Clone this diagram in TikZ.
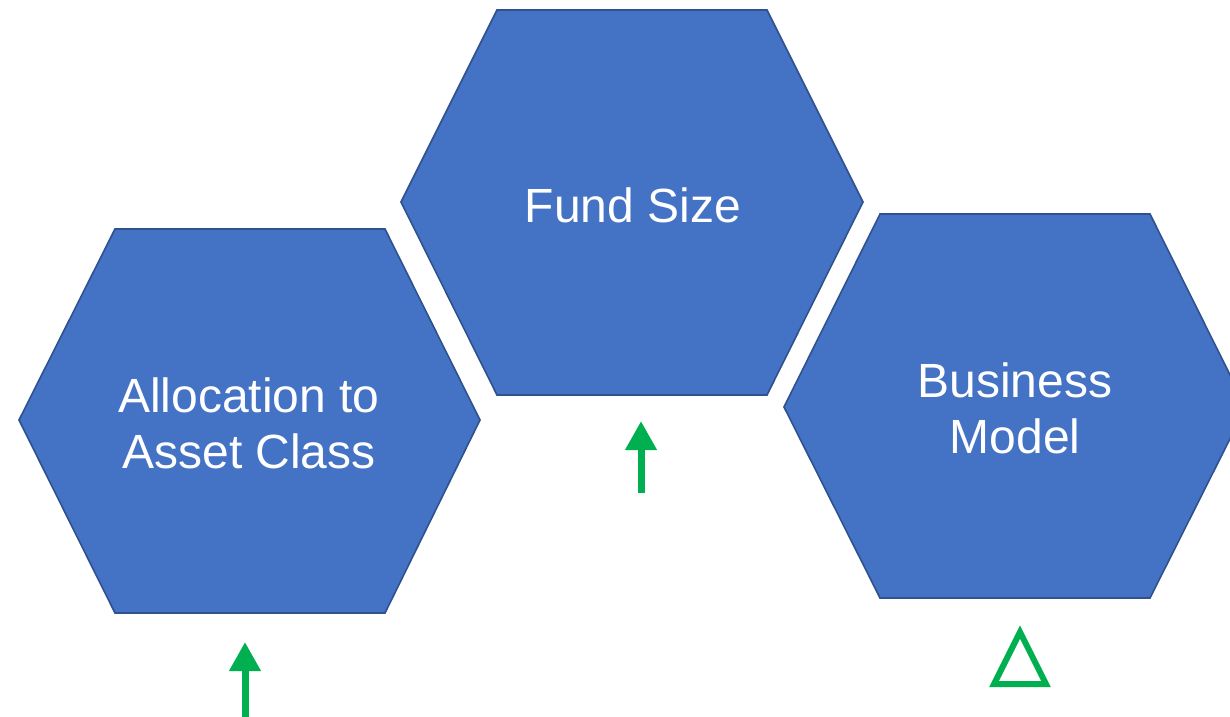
\documentclass[tikz,border=0pt]{standalone}
\usepackage{fontspec}
\setmainfont{Liberation Sans}
\usetikzlibrary{arrows.meta}
\definecolor{hexfill}{HTML}{4472C4}
\definecolor{hexline}{HTML}{2F528F}
\definecolor{grn}{HTML}{00B050}
\tikzset{
  hexa/.style={fill=hexfill, draw=hexline, line width=1.6pt, line join=miter},
  lbl/.style={text=white, font=\fontsize{48}{56}\selectfont, align=center},
  uparrow/.style={draw=grn, line width=7pt, -{Triangle[width=30pt,length=29pt]}},
  tri/.style={draw=grn, line width=6pt, line join=miter}
}
\begin{document}
\begin{tikzpicture}[x=1pt,y=-1pt]
\useasboundingbox (0,0) rectangle (1230,716);
\clip (0,0) rectangle (1230,716);
% hexagons
\draw[hexa] (19,420) -- (115,229) -- (385,229) -- (480,420) -- (385,613) -- (115,613) -- cycle;
\draw[hexa] (401,202) -- (497,10) -- (767,10) -- (863,202) -- (767,395) -- (497,395) -- cycle;
\draw[hexa] (784,407) -- (880,214) -- (1150,214) -- (1246,407) -- (1150,598) -- (880,598) -- cycle;
% labels
\node[lbl] (alloc) at (249,423) {Allocation to\\Asset Class};
\node[lbl] (fund) at (633,205) {Fund Size};
\node[lbl] (biz) at (1015,408) {Business\\Model};
% arrows
\coordinate (a1s) at (641,493);
\coordinate (a1e) at (641,421);
\draw[uparrow] (a1s) -- (a1e);
\coordinate (a2s) at (245,720);
\coordinate (a2e) at (245,642);
\draw[uparrow] (a2s) -- (a2e);
% triangle
\draw[tri] (1020,632) -- (1046,684) -- (994,684) -- cycle;
\end{tikzpicture}
\end{document}
